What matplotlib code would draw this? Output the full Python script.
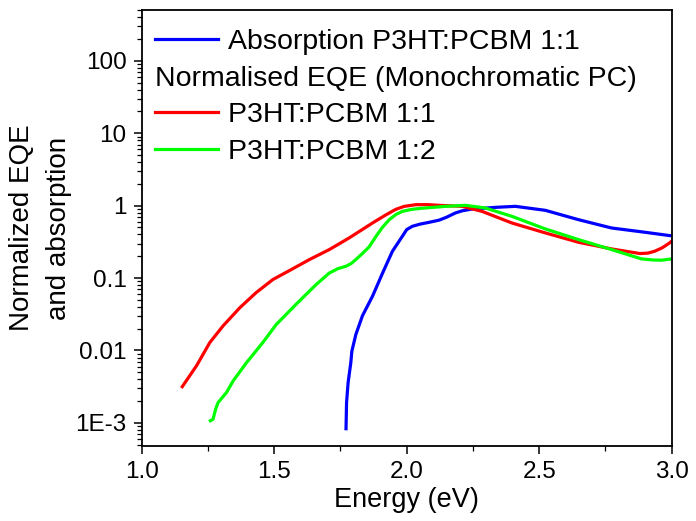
import numpy as np
import matplotlib
matplotlib.use('Agg')
import matplotlib.pyplot as plt
from matplotlib.lines import Line2D
from matplotlib.ticker import FixedLocator, FixedFormatter, LogLocator, NullFormatter

plt.rcParams['font.family'] = ['Liberation Sans', 'DejaVu Sans']

# ── Data (log10 of the normalised signal) ──
abs_e = [1.771, 1.773, 1.779, 1.789, 1.793, 1.808, 1.833, 1.871, 1.909, 1.946,
         1.984, 2.000, 2.021, 2.050, 2.084, 2.122, 2.150, 2.184, 2.210, 2.247,
         2.335, 2.410, 2.523, 2.648, 2.773, 2.899, 2.992, 3.0]
abs_log = [-3.08, -2.72, -2.44, -2.17, -2.01, -1.78, -1.52, -1.25, -0.93, -0.63,
           -0.42, -0.33, -0.285, -0.255, -0.23, -0.20, -0.16, -0.10, -0.07, -0.046,
           -0.023, -0.009, -0.064, -0.193, -0.308, -0.367, -0.413, -0.415]

eqe11_e = [1.153, 1.207, 1.257, 1.307, 1.370, 1.432, 1.495, 1.558, 1.633, 1.708,
           1.783, 1.871, 1.920, 1.959, 1.990, 2.034, 2.080, 2.122, 2.209, 2.284,
           2.397, 2.523, 2.648, 2.773, 2.880, 2.910, 2.936, 2.965, 2.992, 3.0]
eqe11_log = [-2.50, -2.21, -1.89, -1.66, -1.41, -1.20, -1.02, -0.895, -0.744, -0.606,
             -0.445, -0.239, -0.13, -0.05, -0.01, 0.014, 0.015, 0.005, -0.009, -0.078,
             -0.239, -0.376, -0.505, -0.597, -0.661, -0.655, -0.629, -0.58, -0.514, -0.49]

eqe12_e = [1.259, 1.269, 1.279, 1.288, 1.320, 1.345, 1.395, 1.457, 1.508, 1.583,
           1.658, 1.708, 1.740, 1.771, 1.790, 1.808, 1.833, 1.858, 1.883, 1.908,
           1.935, 1.960, 1.984, 2.020, 2.059, 2.147, 2.222, 2.297, 2.397, 2.523,
           2.648, 2.773, 2.886, 2.930, 2.961, 3.0]
eqe12_log = [-2.97, -2.95, -2.81, -2.72, -2.58, -2.42, -2.17, -1.89, -1.64, -1.36,
             -1.09, -0.93, -0.87, -0.836, -0.80, -0.744, -0.66, -0.57, -0.43, -0.30,
             -0.19, -0.12, -0.078, -0.05, -0.035, -0.009, 0.005, -0.032, -0.147, -0.321,
             -0.468, -0.606, -0.735, -0.750, -0.753, -0.735]

y_ticks = [1e-3, 1e-2, 1e-1, 1, 10, 100]
y_labels = ['1E-3', '0.01', '0.1', '1', '10', '100']
x_ticks = [1.0, 1.5, 2.0, 2.5, 3.0]
x_minor = [1.25, 1.75, 2.25, 2.75]

BLUE, RED, GREEN = '#0000ff', '#ff0000', '#00ff00'
LW = 2.3


def main():
    fig = plt.figure(figsize=(6.96, 5.21), dpi=100)
    ax = fig.add_axes([0.2036, 0.144, 0.7615, 0.837])

    ax.plot(abs_e, 10 ** np.array(abs_log), color=BLUE, lw=LW)
    ax.plot(eqe11_e, 10 ** np.array(eqe11_log), color=RED, lw=LW)
    ax.plot(eqe12_e, 10 ** np.array(eqe12_log), color=GREEN, lw=LW)

    ax.set_yscale('log')
    ax.set_xlim(1.0, 3.0)
    ax.set_ylim(4.8e-4, 506)

    ax.yaxis.set_major_locator(FixedLocator(y_ticks))
    ax.yaxis.set_major_formatter(FixedFormatter(y_labels))
    ax.yaxis.set_minor_locator(LogLocator(base=10, subs=np.arange(2, 10)))
    ax.yaxis.set_minor_formatter(NullFormatter())
    ax.set_xticks(x_ticks)
    ax.set_xticklabels([f'{v:.1f}' for v in x_ticks])
    ax.set_xticks(x_minor, minor=True)

    ax.tick_params(which='major', direction='out', length=6, width=1.1,
                   labelsize=17.5, pad=5)
    ax.tick_params(which='minor', direction='out', length=3.5, width=0.9)
    for sp in ax.spines.values():
        sp.set_linewidth(1.3)

    ax.set_xlabel('Energy (eV)', fontsize=19.5, labelpad=3)
    ax.set_ylabel('Normalized EQE\nand absorption', fontsize=20, labelpad=2,
                  linespacing=1.55)

    # ── Legend with a text-only header row ───────────────────
    handles = [Line2D([], [], color=BLUE, lw=LW),
               Line2D([], [], color='none'),
               Line2D([], [], color=RED, lw=LW),
               Line2D([], [], color=GREEN, lw=LW)]
    labels = ['Absorption P3HT:PCBM 1:1',
              'Normalised EQE (Monochromatic PC)',
              'P3HT:PCBM 1:1',
              'P3HT:PCBM 1:2']
    leg = ax.legend(handles, labels, loc='upper left', frameon=False,
                    fontsize=20.5, handlelength=2.2, handletextpad=0.35,
                    labelspacing=0.37, borderaxespad=0, borderpad=0,
                    bbox_to_anchor=(0.025, 0.956))
    col = leg._legend_handle_box.get_children()[0]
    row = col.get_children()[1]
    row.get_children()[0].set_width(0)
    row.sep = 0

    fig.savefig('out.png', dpi=100)


if __name__ == '__main__':
    main()
